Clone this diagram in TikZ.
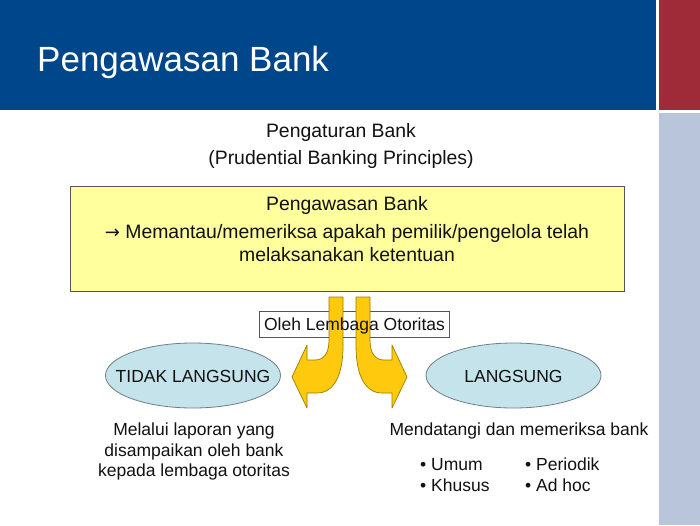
\documentclass[tikz,border=0pt]{standalone}
\usepackage{fontspec}
\setmainfont{Liberation Sans}
\newfontfamily\symfont{DejaVu Sans}
\usetikzlibrary{shapes.geometric}
\definecolor{hdrblue}{HTML}{00468B}
\definecolor{hdrred}{HTML}{9E2B37}
\definecolor{stripe}{HTML}{B9C5DA}
\definecolor{boxyellow}{HTML}{FFFF9E}
\definecolor{boxline}{HTML}{555555}
\definecolor{arrowfill}{HTML}{FFC90E}
\definecolor{arrowline}{HTML}{9A7B00}
\definecolor{ellfill}{HTML}{C5E3EA}
\definecolor{ellline}{HTML}{6F7F85}
\definecolor{txtcol}{HTML}{111111}
\begin{document}
\begin{tikzpicture}[x=1pt,y=-1pt,
  txt/.style={inner sep=0pt, anchor=base, text=txtcol},
  ftitle/.style={font=\fontsize{35}{40}\selectfont},
  fbig/.style={font=\fontsize{19.4}{23}\selectfont},
  fsmall/.style={font=\fontsize{17.5}{21}\selectfont},
  uarrow/.style={fill=arrowfill, draw=arrowline, line width=0.7pt, line join=round},
  oval/.style={ellipse, fill=ellfill, draw=ellline, line width=0.8pt, minimum width=175pt, minimum height=65pt, inner sep=0pt}
]
\useasboundingbox (0,0) rectangle (700,525);
\fill[white] (0,0) rectangle (700,525);
% header
\fill[hdrblue] (0,0) rectangle (656,110);
\fill[hdrred] (659,0) rectangle (700,110);
\fill[stripe] (659,113) rectangle (700,525);
\node[txt, anchor=base west, text=white, ftitle] (title) at (37,71) {Pengawasan Bank};

% top texts
\node[txt, fbig] (reg1) at (341,137) {Pengaturan Bank};
\node[txt, fbig] (reg2) at (341,164) {(Prudential Banking Principles)};

% yellow box
\node[draw=boxline, fill=boxyellow, line width=0.8pt, minimum width=554pt, minimum height=105pt, inner sep=0pt] (ybox) at (347,238.5) {};
\node[txt, fbig] (y1) at (347,210) {Pengawasan Bank};
\node[txt, fbig] (y2) at (347,238) {{\symfont\fontsize{18}{22}\selectfont →} Memantau/memeriksa apakah pemilik/pengelola telah};
\node[txt, fbig] (y3) at (347,261) {melaksanakan ketentuan};

% authority box (border under the arrows)
\node[draw=boxline, line width=0.8pt, minimum width=190pt, minimum height=26pt, inner sep=0pt] (oleh) at (354.5,324) {};

% curved arrows
\filldraw[uarrow] (329,297) -- (343,297) -- (343,346)
  .. controls (343,375) and (334,393) .. (317,393) -- (307,393) -- (307,408)
  -- (292,377) -- (307,345) -- (307,360) -- (315,360)
  .. controls (324,360) and (329,353) .. (329,340) -- cycle;
\filldraw[uarrow] (370,297) -- (356,297) -- (356,346)
  .. controls (356,375) and (365,393) .. (382,393) -- (392,393) -- (392,408)
  -- (407,377) -- (392,345) -- (392,360) -- (384,360)
  .. controls (375,360) and (370,353) .. (370,340) -- cycle;

\node[txt, fsmall] (olehtxt) at (354.5,330) {Oleh Lembaga Otoritas};

% ovals
\node[oval] (tidak) at (193,375.5) {};
\node[oval] (langsung) at (513.5,375.5) {};
\node[txt, fsmall] (tidaktxt) at (193,382) {TIDAK LANGSUNG};
\node[txt, fsmall] (langsungtxt) at (513.5,382) {LANGSUNG};

% left description
\node[txt, fsmall] (l1) at (194,435) {Melalui laporan yang};
\node[txt, fsmall] (l2) at (194,456) {disampaikan oleh bank};
\node[txt, fsmall] (l3) at (194,476) {kepada lembaga otoritas};

% right description
\node[txt, fsmall] (r1) at (519,435) {Mendatangi dan memeriksa bank};
\node[txt, fsmall, anchor=base west] (b1) at (420,470) {• Umum};
\node[txt, fsmall, anchor=base west] (b2) at (420,491) {• Khusus};
\node[txt, fsmall, anchor=base west] (b3) at (525,470) {• Periodik};
\node[txt, fsmall, anchor=base west] (b4) at (525,491) {• Ad hoc};
\end{tikzpicture}
\end{document}
